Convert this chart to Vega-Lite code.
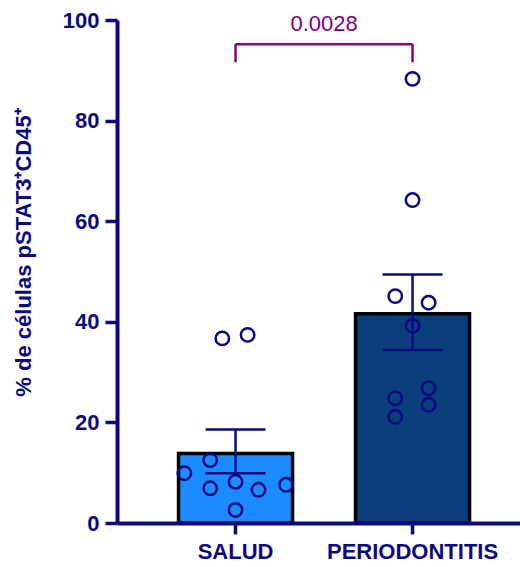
{
  "$schema": "https://vega.github.io/schema/vega-lite/v6.json",
  "width": 403,
  "height": 503,
  "autosize": {"type": "none"},
  "padding": {"left": 117, "top": 20, "right": 0, "bottom": 44},
  "background": "white",
  "config": {
    "view": {"stroke": null},
    "font": "Liberation Sans"
  },
  "datasets": {
    "summary": [
      {"group": "SALUD", "mean": 13.8, "lo": 9.9, "hi": 18.6},
      {"group": "PERIODONTITIS", "mean": 41.6, "lo": 34.4, "hi": 49.4}
    ],
    "points": [
      {"group": "SALUD", "jitter": -0.23, "value": 36.7},
      {"group": "SALUD", "jitter": 0.21, "value": 37.4},
      {"group": "SALUD", "jitter": -0.89, "value": 9.9},
      {"group": "SALUD", "jitter": -0.44, "value": 12.5},
      {"group": "SALUD", "jitter": -0.44, "value": 6.9},
      {"group": "SALUD", "jitter": 0.0, "value": 8.2},
      {"group": "SALUD", "jitter": 0.0, "value": 2.6},
      {"group": "SALUD", "jitter": 0.40, "value": 6.6},
      {"group": "SALUD", "jitter": 0.88, "value": 7.6},
      {"group": "PERIODONTITIS", "jitter": 0.0, "value": 88.3},
      {"group": "PERIODONTITIS", "jitter": 0.0, "value": 64.2},
      {"group": "PERIODONTITIS", "jitter": -0.30, "value": 45.1},
      {"group": "PERIODONTITIS", "jitter": 0.28, "value": 43.8},
      {"group": "PERIODONTITIS", "jitter": 0.0, "value": 39.2},
      {"group": "PERIODONTITIS", "jitter": -0.30, "value": 24.8},
      {"group": "PERIODONTITIS", "jitter": -0.30, "value": 21.1},
      {"group": "PERIODONTITIS", "jitter": 0.28, "value": 26.8},
      {"group": "PERIODONTITIS", "jitter": 0.28, "value": 23.5}
    ],
    "bracket": [
      {"from": "SALUD", "to": "PERIODONTITIS", "top": 95.2, "bottom": 91.6, "label": "0.0028", "texty": 99.2}
    ],
    "legs": [
      {"group": "SALUD", "top": 95.2, "bottom": 91.6},
      {"group": "PERIODONTITIS", "top": 95.2, "bottom": 91.6}
    ]
  },
  "encoding": {
    "x": {
      "field": "group",
      "type": "nominal",
      "sort": ["SALUD", "PERIODONTITIS"],
      "scale": {"domain": ["SALUD", "PERIODONTITIS"], "paddingInner": 0.35, "paddingOuter": 0.3135, "align": 0.55},
      "axis": {
        "title": null,
        "labelAngle": 0,
        "labelFont": "Liberation Sans",
        "labelFontWeight": "bold",
        "labelFontSize": 22,
        "labelColor": "#0a0a80",
        "labelPadding": 7,
        "domainColor": "#0a0a80",
        "domainWidth": 4,
        "tickColor": "#0a0a80",
        "tickWidth": 3.5,
        "tickSize": 11,
        "zindex": 1
      }
    }
  },
  "layer": [
    {
      "data": {"name": "summary"},
      "mark": {"type": "bar", "stroke": "black", "strokeWidth": 3.5, "strokeJoin": "miter", "width": 114},
      "encoding": {
        "y": {
          "field": "mean",
          "type": "quantitative",
          "scale": {"domain": [0, 100], "nice": false},
          "axis": {
            "title": "% de células pSTAT3⁺CD45⁺",
            "titleFont": "Liberation Sans",
            "titleFontWeight": "bold",
            "titleFontSize": 22,
            "titleColor": "#0a0a80",
            "titlePadding": 27,
            "titleY": 232,
            "values": [0, 20, 40, 60, 80, 100],
            "grid": false,
            "labelFont": "Liberation Sans",
            "labelFontWeight": "bold",
            "labelFontSize": 22,
            "labelColor": "#0a0a80",
            "labelPadding": 6,
            "domainColor": "#0a0a80",
            "domainWidth": 4,
            "tickColor": "#0a0a80",
            "tickWidth": 3.5,
            "tickSize": 12,
            "zindex": 1
          }
        },
        "color": {
          "field": "group",
          "type": "nominal",
          "scale": {"domain": ["SALUD", "PERIODONTITIS"], "range": ["#1a8cff", "#0a3f7c"]},
          "legend": null
        }
      }
    },
    {
      "data": {"name": "summary"},
      "mark": {"type": "rule", "color": "#0a0a80", "strokeWidth": 2.5, "opacity": 1},
      "encoding": {
        "y": {"field": "lo", "type": "quantitative"},
        "y2": {"field": "hi"}
      }
    },
    {
      "data": {"name": "summary"},
      "mark": {"type": "tick", "color": "#0a0a80", "thickness": 2.5, "size": 60, "orient": "horizontal", "opacity": 1},
      "encoding": {
        "y": {"field": "lo", "type": "quantitative"}
      }
    },
    {
      "data": {"name": "summary"},
      "mark": {"type": "tick", "color": "#0a0a80", "thickness": 2.5, "size": 60, "orient": "horizontal", "opacity": 1},
      "encoding": {
        "y": {"field": "hi", "type": "quantitative"}
      }
    },
    {
      "data": {"name": "points"},
      "mark": {"type": "point", "filled": false, "stroke": "#0a0a80", "strokeWidth": 2.5, "size": 180, "opacity": 1},
      "encoding": {
        "xOffset": {"field": "jitter", "type": "quantitative", "scale": {"domain": [-1, 1], "range": [0, 115]}},
        "y": {"field": "value", "type": "quantitative"}
      }
    },
    {
      "data": {"name": "bracket"},
      "mark": {"type": "rule", "color": "#800080", "strokeWidth": 2.5},
      "encoding": {
        "x": {"field": "from", "type": "nominal"},
        "x2": {"field": "to"},
        "y": {"field": "top", "type": "quantitative"}
      }
    },
    {
      "data": {"name": "legs"},
      "mark": {"type": "rule", "color": "#800080", "strokeWidth": 2.5},
      "encoding": {
        "y": {"field": "bottom", "type": "quantitative"},
        "y2": {"field": "top"}
      }
    },
    {
      "data": {"name": "bracket"},
      "mark": {"type": "text", "color": "#800080", "fontSize": 22, "font": "Liberation Sans", "dx": 88.5, "baseline": "middle", "align": "center"},
      "encoding": {
        "x": {"field": "from", "type": "nominal"},
        "y": {"field": "texty", "type": "quantitative"},
        "text": {"field": "label"}
      }
    }
  ]
}
